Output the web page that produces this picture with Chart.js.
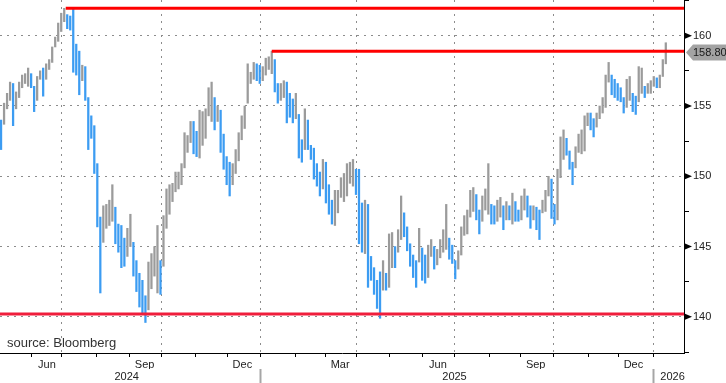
<!DOCTYPE html>
<html lang="en">
<head>
<meta charset="UTF-8">
<title>USDJPY</title>
<script src="https://cdn.jsdelivr.net/npm/chart.js@4.4.1/dist/chart.umd.min.js"></script>
<style>
  body { margin: 0; background: #fff; }
  .wrap { width: 726px; height: 383px; }
</style>
</head>
<body>
<div class="wrap"><canvas id="fx" width="726" height="383"></canvas></div>
<script>
// two-day bars (low / high), starting Mon 29 Apr 2024, one row per fortnight
const lows = [
  154.5, 153.0, 151.9, 153.7, 154.8,
  155.4, 153.6, 154.8, 155.6, 156.3,
  156.6, 156.4, 156.3, 154.6, 155.4,
  156.9, 155.7, 156.9, 157.6, 158.1,
  159.2, 159.6, 160.3, 161.0, 160.5,
  160.4, 157.4, 157.2, 155.8, 156.8,
  155.4, 151.9, 152.7, 150.2, 146.4,
  141.7, 145.3, 146.3, 146.5, 146.8,
  145.2, 144.6, 143.5, 143.6, 144.3,
  145.0, 142.9, 141.8, 140.7, 140.3,
  139.6, 140.5, 142.0, 142.9, 141.7,
  141.6, 143.6, 146.3, 147.3, 148.2,
  148.9, 149.1, 149.4, 150.6, 151.7,
  152.4, 151.6, 151.4, 151.3, 152.2,
  152.7, 154.3, 153.9, 153.3, 153.9,
  151.7, 150.5, 149.4, 148.6, 149.4,
  150.2, 151.1, 152.6, 153.4, 155.2,
  156.6, 156.9, 156.8, 156.6, 156.8,
  157.2, 157.6, 157.3, 156.0, 155.2,
  155.4, 155.6, 153.8, 154.2, 153.8,
  154.1, 151.3, 151.0, 151.9, 151.9,
  151.2, 149.8, 149.3, 148.6, 149.1,
  148.1, 147.3, 146.6, 146.5, 147.4,
  148.5, 148.2, 148.6, 149.5, 149.3,
  148.7, 145.2, 144.6, 144.5, 142.1,
  142.6, 141.6, 140.6, 139.9, 141.9,
  141.9, 142.1, 143.5, 143.5, 144.6,
  145.5, 145.7, 144.7, 143.6, 142.8,
  142.1, 143.9, 142.6, 142.4, 142.8,
  144.3, 143.4, 143.7, 144.2, 144.6,
  144.8, 144.1, 143.8, 142.7, 143.4,
  144.4, 145.8, 145.9, 147.1, 147.5,
  146.9, 145.9, 146.8, 147.6, 147.3,
  146.6, 146.6, 146.8, 147.1, 146.2,
  146.9, 146.9, 146.6, 146.8, 146.8,
  146.9, 147.6, 147.1, 146.3, 146.9,
  146.2, 145.5, 147.4, 147.5, 148.6,
  147.0, 146.6, 146.9, 149.9, 151.2,
  151.5, 150.5, 149.4, 150.6, 151.7,
  151.6, 151.8, 153.6, 153.3, 152.8,
  153.5, 154.1, 154.5, 154.9, 156.7,
  155.8, 155.6, 155.4, 155.3, 154.5,
  154.9, 155.4, 154.6, 154.4, 155.3,
  155.9, 155.6, 155.9, 155.9, 156.4,
  156.3, 156.3, 157.1, 158.0
];
const highs = [
  160.2, 157.9, 154.0, 155.2, 155.9,
  156.7, 156.6, 156.0, 156.7, 157.2,
  157.3, 157.7, 157.3, 156.4, 157.1,
  157.5, 157.7, 158.0, 158.3, 159.2,
  159.9, 160.9, 161.6, 161.95, 161.5,
  161.4, 161.9, 159.4, 158.9, 157.9,
  157.8, 155.6, 154.3, 153.6, 150.9,
  147.1, 147.9, 148.0, 148.3, 149.4,
  147.8, 146.6, 146.5, 145.6, 146.3,
  147.3, 145.3, 144.0, 143.1, 142.6,
  141.5, 143.9, 144.5, 145.0, 146.5,
  144.0, 147.2, 149.1, 149.4, 149.5,
  150.3, 150.3, 150.9, 153.1, 152.9,
  153.9, 153.9, 153.2, 154.7, 154.6,
  154.8, 156.3, 156.7, 155.6, 155.0,
  154.7, 153.0, 151.4, 151.0, 150.9,
  151.9, 153.1, 154.3, 155.0, 158.0,
  157.4, 158.1, 158.0, 157.9, 157.8,
  158.4, 158.5, 158.9, 158.3, 156.6,
  156.6, 156.8, 156.7, 155.9, 155.5,
  155.9, 154.4, 152.6, 154.8, 154.0,
  152.2, 152.0, 150.9, 150.3, 151.2,
  151.0, 149.4, 148.3, 149.0, 149.0,
  149.9, 150.2, 150.9, 151.0, 151.2,
  150.5, 150.5, 148.1, 148.3, 148.0,
  144.3, 143.5, 142.6, 143.2, 144.0,
  143.1, 145.9, 146.0, 145.0, 146.2,
  148.6, 147.4, 146.4, 145.2, 144.4,
  144.0, 146.3, 144.9, 144.4, 145.1,
  145.5, 145.0, 144.8, 145.5, 146.2,
  148.0, 145.6, 145.1, 144.0, 144.7,
  146.4, 147.2, 147.6, 149.0, 149.2,
  148.7, 147.6, 148.6, 149.1, 150.9,
  148.0, 147.9, 148.3, 148.5, 147.9,
  148.2, 147.9, 148.8, 148.2, 147.6,
  148.6, 149.1, 148.6, 147.9, 147.9,
  147.8, 147.6, 148.3, 149.0, 150.0,
  149.8, 148.0, 150.5, 152.8, 153.3,
  152.7, 151.8, 151.0, 152.1, 153.0,
  153.3, 154.3, 154.5, 154.5, 154.1,
  154.5, 155.0, 155.6, 157.2, 158.1,
  157.2, 156.9, 156.6, 156.3, 155.6,
  156.9, 157.1, 155.9, 155.7, 157.8,
  157.7, 156.4, 156.6, 156.8, 157.1,
  157.0, 157.2, 158.3, 159.5
];
const lastClose = 158.80;

// horizontal reference levels and the day each one starts
const levels = [161.95, 158.90, 140.20];
const levelFrom = ['2024-07-03', '2025-01-10', '2024-04-29'];
const levelColors = ['#ff0000', '#ff0000', '#f01e3c'];

const priceTicks = [137.5, 140, 142.5, 145, 147.5, 150, 152.5, 155, 157.5, 160, 162.5];
const monthNames = ['Jan', 'Feb', 'Mar', 'Apr', 'May', 'Jun', 'Jul', 'Aug', 'Sep', 'Oct', 'Nov', 'Dec'];
const labelMonths = [2, 5, 8, 11];
const gridMonths = [0, 3, 6, 9];
const yearLabels = ['2024', '2025', '2026'];
const yearLabelAt = ['2024-08-29', '2025-07-01', '2026-01-20'];
const yearBreaks = ['2025-01-01', '2026-01-01'];

// x axis counts trading days (weekdays) from Mon 29 Apr 2024
const START = Date.UTC(2024, 3, 29);
function wd(d) {
  const t = typeof d === 'string' ? Date.parse(d + 'T00:00:00Z') : d;
  const days = Math.round((t - START) / 864e5);
  return Math.floor(days / 7) * 5 + Math.min(days % 7, 5);
}
const xMin = 3.8, xMax = 458.6;

const monthTicks = [];
for (let k = 0; k < 22; k++) {
  const t = Date.UTC(2024, 4 + k, 1);
  const v = wd(t);
  if (v >= xMin && v <= xMax) monthTicks.push({ value: v, month: new Date(t).getUTCMonth() });
}
const monthAt = v => monthTicks.find(t => t.value === v);

const yearTicks = [];
yearLabels.forEach((lab, i) => {
  yearTicks.push({ value: wd(yearLabelAt[i]), label: lab, sep: false });
  if (yearBreaks[i]) yearTicks.push({ value: wd(yearBreaks[i]), label: '', sep: true });
});
yearTicks.sort((a, b) => a.value - b.value);

const bars = lows.map((lo, i) => ({ x: 2 * i + 0.5, y: [lo, highs[i]] }));
const barColors = lows.map((lo, i) => {
  if (i === 0) return '#3c9cf2';
  const mid = (lo + highs[i]) / 2, prev = (lows[i - 1] + highs[i - 1]) / 2;
  return mid >= prev ? '#9b9b9b' : '#3c9cf2';
});

const levelSets = levels.map((lv, i) => ({
  type: 'line',
  data: [{ x: Math.max(wd(levelFrom[i]) + 0.5, xMin), y: lv }, { x: xMax, y: lv }],
  borderColor: levelColors[i],
  borderWidth: 3,
  pointRadius: 0,
  tension: 0,
  fill: false,
  order: 0
}));

const FONT = 'Liberation Sans';
Chart.defaults.font.family = FONT;
const isMajor = v => Math.abs(v % 5) < 1e-6;
const noPad = s => { s.paddingTop = 0; s.paddingBottom = 0; s.paddingLeft = 0; s.paddingRight = 0; };

const decorations = {
  id: 'decorations',
  afterDraw(chart) {
    const { ctx, chartArea, scales: { y } } = chart;
    ctx.save();
    ctx.fillStyle = '#000';
    priceTicks.filter(isMajor).forEach(v => {
      const py = y.getPixelForValue(v);
      ctx.beginPath();
      ctx.moveTo(chartArea.right + 1, py - 3);
      ctx.lineTo(chartArea.right + 8, py);
      ctx.lineTo(chartArea.right + 1, py + 3);
      ctx.closePath();
      ctx.fill();
    });
    // last price tag
    const ty = y.getPixelForValue(lastClose);
    const x0 = chartArea.right + 2;
    ctx.fillStyle = '#a3a3a3';
    ctx.beginPath();
    ctx.moveTo(x0, ty);
    ctx.lineTo(x0 + 7, ty - 8);
    ctx.lineTo(726, ty - 8);
    ctx.lineTo(726, ty + 8);
    ctx.lineTo(x0 + 7, ty + 8);
    ctx.closePath();
    ctx.fill();
    ctx.fillStyle = '#1a1a1a';
    ctx.font = '11px "' + FONT + '"';
    ctx.textBaseline = 'middle';
    ctx.fillText(lastClose.toFixed(2), x0 + 7, ty + 0.5);
    // source note
    ctx.fillStyle = '#333';
    ctx.font = '13px "' + FONT + '"';
    ctx.textBaseline = 'alphabetic';
    ctx.fillText('source: Bloomberg', chartArea.left + 7, chartArea.bottom - 6);
    ctx.restore();
  }
};

new Chart(document.getElementById('fx'), {
  type: 'bar',
  data: {
    datasets: [
      ...levelSets,
      {
        data: bars,
        backgroundColor: barColors,
        barThickness: 1.6,
        order: 1
      }
    ]
  },
  options: {
    responsive: false,
    animation: false,
    devicePixelRatio: 1,
    layout: { padding: 0, autoPadding: false },
    plugins: { legend: { display: false }, tooltip: { enabled: false } },
    scales: {
      x: {
        type: 'linear', position: 'bottom', min: xMin, max: xMax, bounds: 'data', offset: false,
        afterBuildTicks: s => { s.ticks = monthTicks.map(t => ({ value: t.value })); },
        ticks: {
          autoSkip: false, maxRotation: 0, labelOffset: 15, padding: 1,
          color: '#222', font: { size: 11 },
          callback: v => { const m = monthAt(v); return m && labelMonths.includes(m.month) ? monthNames[m.month] : ''; }
        },
        grid: {
          offset: false, lineWidth: 1, tickLength: 4, tickColor: '#000',
          color: c => { const m = c.tick && monthAt(c.tick.value); return m && gridMonths.includes(m.month) ? '#8c8c8c' : 'rgba(0,0,0,0)'; }
        },
        border: { display: true, color: '#000', width: 1, dash: [2, 5] },
        afterFit: s => { s.height = 16; noPad(s); }
      },
      x2: {
        type: 'linear', position: 'bottom', min: xMin, max: xMax, bounds: 'data', offset: false,
        afterBuildTicks: s => { s.ticks = yearTicks.map(t => ({ value: t.value })); },
        ticks: {
          autoSkip: false, maxRotation: 0, padding: -13,
          color: '#222', font: { size: 11 },
          callback: (v, i) => yearTicks[i] ? yearTicks[i].label : ''
        },
        grid: {
          offset: false, drawOnChartArea: false, tickLength: 14, tickWidth: 2,
          tickColor: c => (c.index !== undefined && yearTicks[c.index] && yearTicks[c.index].sep) ? '#a6a6a6' : 'rgba(0,0,0,0)'
        },
        border: { display: false },
        afterFit: s => { s.height = 14; noPad(s); }
      },
      y: {
        position: 'right', min: 137.43, max: 162.54, bounds: 'data', beginAtZero: false,
        afterBuildTicks: s => { s.ticks = priceTicks.map(v => ({ value: v })); },
        ticks: {
          padding: 4, color: '#222', font: { size: 11 },
          callback: v => (isMajor(v) ? String(v) : '')
        },
        grid: {
          lineWidth: 1, tickLength: 5,
          color: c => (c.tick && isMajor(c.tick.value)) ? '#8c8c8c' : 'rgba(0,0,0,0)',
          tickColor: c => (c.tick && isMajor(c.tick.value)) ? 'rgba(0,0,0,0)' : '#000'
        },
        border: { display: true, color: '#000', width: 1, dash: [2, 5] },
        afterFit: s => { s.width = 42; noPad(s); }
      }
    }
  },
  plugins: [decorations]
});
</script>
</body>
</html>
